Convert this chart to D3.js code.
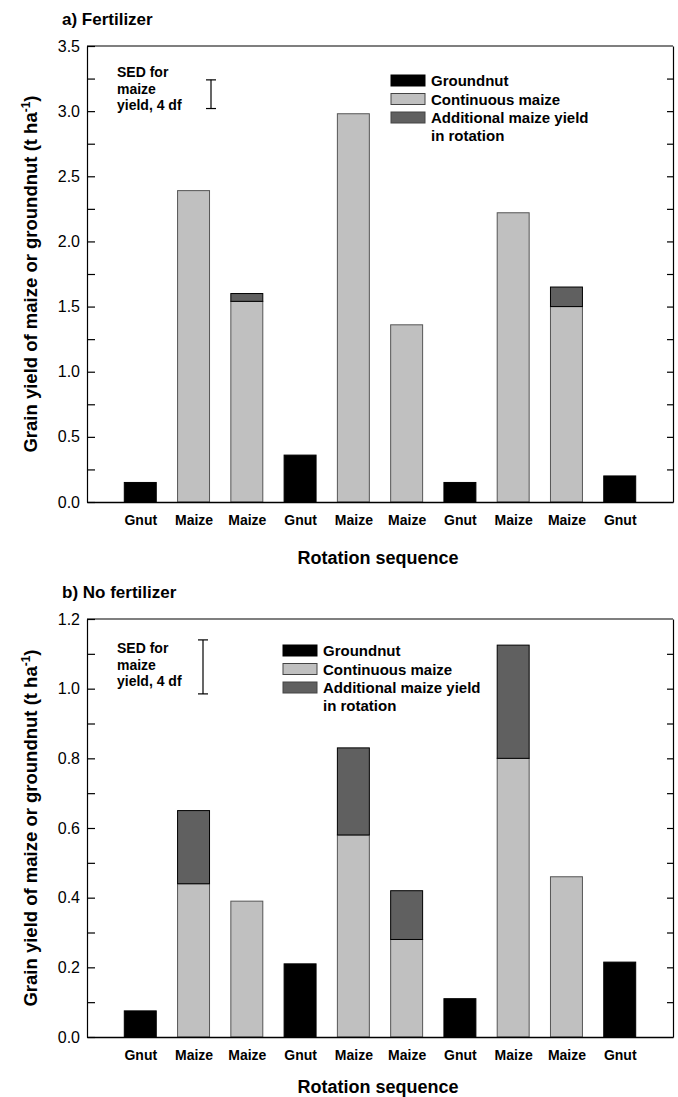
<!DOCTYPE html>
<html>
<head>
<meta charset="utf-8">
<script src="https://cdn.jsdelivr.net/npm/d3@7"></script>
<style>
  body { margin: 0; background: #fff; }
  text { font-family: "Liberation Sans", Arial, sans-serif; }
</style>
</head>
<body>
<div id="chart"></div>
<script>
// Rotation sequence (same for both panels)
let rotation = ["Gnut", "Maize", "Maize", "Gnut", "Maize", "Maize", "Gnut", "Maize", "Maize", "Gnut"];

// a) Fertilizer: groundnut / continuous maize yield, plus extra maize yield in rotation
let fertBase  = [0.15, 2.39, 1.54, 0.36, 2.98, 1.36, 0.15, 2.22, 1.50, 0.20];
let fertExtra = [0, 0, 0.06, 0, 0, 0, 0, 0, 0.15, 0];

// b) No fertilizer
let noFertBase  = [0.075, 0.44, 0.39, 0.21, 0.58, 0.28, 0.11, 0.80, 0.46, 0.215];
let noFertExtra = [0, 0.21, 0, 0, 0.25, 0.14, 0, 0.325, 0, 0];

// SED bars (t/ha), drawn as [low, high]
let fertSED = [3.02, 3.24];
let noFertSED = [0.985, 1.14];

let legendLabels = ["Groundnut", "Continuous maize", "Additional maize yield"];
let colors = { gnut: "#000000", cont: "#c0c0c0", extra: "#606060" };

let svg = d3.select("#chart").append("svg")
    .attr("width", 678)
    .attr("height", 1097);

let x = d3.scaleLinear().domain([0, rotation.length + 1]).range([87, 673]);
let barW = 0.6;

function drawPanel(opt) {
    let y = d3.scaleLinear().domain([0, opt.max]).range([opt.bottom, opt.top]);
    let g = svg.append("g");

    // title
    g.append("text")
        .attr("x", 62)
        .attr("y", opt.top - 21)
        .style("font-size", "17px")
        .style("font-weight", "bold")
        .text(opt.title);

    // frame top
    g.append("line")
        .attr("x1", x.range()[0]).attr("x2", x.range()[1])
        .attr("y1", opt.top).attr("y2", opt.top)
        .attr("stroke", "#000").attr("stroke-width", 1.2);

    let tickVals = d3.range(0, opt.max + opt.minor / 2, opt.minor);
    let left = g.append("g")
        .attr("transform", `translate(${x.range()[0]},0)`)
        .call(d3.axisLeft(y)
            .tickValues(tickVals)
            .tickSizeInner(-8)
            .tickSizeOuter(0)
            .tickPadding(7)
            .tickFormat((d, i) => i % 2 === 0 ? d3.format(".1f")(d) : ""));
    left.selectAll("text").style("font-size", "16px").attr("fill", "#000");

    let right = g.append("g")
        .attr("transform", `translate(${x.range()[1]},0)`)
        .call(d3.axisRight(y)
            .tickValues(tickVals.slice(1, -1))
            .tickSizeInner(-6)
            .tickSizeOuter(0)
            .tickFormat(""));

    [left, right].forEach(a => {
        a.select(".domain").attr("stroke-width", 1.2);
        a.selectAll(".tick line").attr("stroke-width", 1.2);
    });

    // bars: base
    g.selectAll(".base")
        .data(opt.base)
        .join("rect")
        .attr("x", (d, i) => x(i + 1 - barW / 2))
        .attr("width", x(barW) - x(0))
        .attr("y", d => y(d))
        .attr("height", d => y(0) - y(d))
        .attr("fill", (d, i) => rotation[i] === "Gnut" ? colors.gnut : colors.cont)
        .attr("stroke", (d, i) => rotation[i] === "Gnut" ? "#000" : "#555")
        .attr("stroke-width", 1);

    // bars: extra yield in rotation
    let extraIdx = d3.range(opt.extra.length).filter(i => opt.extra[i] > 0);
    g.selectAll(".extra")
        .data(extraIdx)
        .join("rect")
        .attr("x", i => x(i + 1 - barW / 2))
        .attr("width", x(barW) - x(0))
        .attr("y", i => y(opt.base[i] + opt.extra[i]))
        .attr("height", i => y(opt.base[i]) - y(opt.base[i] + opt.extra[i]))
        .attr("fill", colors.extra)
        .attr("stroke", "#000")
        .attr("stroke-width", 1);

    // x axis
    let bottomAxis = g.append("g")
        .attr("transform", `translate(0,${opt.bottom})`)
        .call(d3.axisBottom(x)
            .tickValues(d3.range(1, rotation.length + 1))
            .tickSize(0)
            .tickPadding(13)
            .tickFormat(d => rotation[d - 1]));
    bottomAxis.select(".domain").attr("stroke-width", 1.5);
    bottomAxis.selectAll("text")
        .style("font-size", "14px")
        .style("font-weight", "bold")
        .attr("fill", "#000");

    g.append("text")
        .attr("x", 378)
        .attr("y", opt.bottom + opt.xTitleGap)
        .attr("text-anchor", "middle")
        .style("font-size", "18px")
        .style("font-weight", "bold")
        .text("Rotation sequence");

    // y title
    let yt = g.append("text")
        .attr("transform", `translate(37,${(opt.top + opt.bottom) / 2}) rotate(-90)`)
        .attr("text-anchor", "middle")
        .style("font-size", "18.5px")
        .style("font-weight", "bold");
    yt.append("tspan").text("Grain yield of maize or groundnut (t ha");
    yt.append("tspan").attr("dy", -7).style("font-size", "12px").text("-1");
    yt.append("tspan").attr("dy", 7).text(")");

    // SED bar
    let sx = opt.sedX;
    let sed = g.append("g").attr("stroke", "#000").attr("stroke-width", 1.2);
    sed.append("line").attr("x1", sx).attr("x2", sx).attr("y1", y(opt.sed[0])).attr("y2", y(opt.sed[1]));
    opt.sed.forEach(v => {
        sed.append("line").attr("x1", sx - 5).attr("x2", sx + 5).attr("y1", y(v)).attr("y2", y(v));
    });
    ["SED for", "maize", "yield, 4 df"].forEach((t, i) => {
        g.append("text")
            .attr("x", 117)
            .attr("y", opt.sedTextY + i * 16.5)
            .style("font-size", "14px")
            .style("font-weight", "bold")
            .text(t);
    });

    // legend
    let lg = g.append("g").attr("transform", `translate(${opt.legendX},${opt.legendY})`);
    let swatch = [colors.gnut, colors.cont, colors.extra];
    legendLabels.forEach((t, i) => {
        lg.append("rect")
            .attr("x", 0).attr("y", i * 18.5 - 11)
            .attr("width", 34).attr("height", 11)
            .attr("fill", swatch[i])
            .attr("stroke", i === 0 ? "#000" : "#444");
        lg.append("text")
            .attr("x", 40).attr("y", i * 18.5)
            .style("font-size", "15px")
            .style("font-weight", "bold")
            .text(t);
    });
    lg.append("text")
        .attr("x", 40).attr("y", 3 * 18.5 - 1)
        .style("font-size", "15px")
        .style("font-weight", "bold")
        .text("in rotation");
}

drawPanel({
    title: "a) Fertilizer", top: 46, bottom: 502, max: 3.5, minor: 0.25,
    base: fertBase, extra: fertExtra, sed: fertSED, sedX: 211, sedTextY: 77,
    legendX: 391, legendY: 86, xTitleGap: 62
});

drawPanel({
    title: "b) No fertilizer", top: 619, bottom: 1037, max: 1.2, minor: 0.1,
    base: noFertBase, extra: noFertExtra, sed: noFertSED, sedX: 203, sedTextY: 653,
    legendX: 283, legendY: 656, xTitleGap: 56
});
</script>
</body>
</html>
